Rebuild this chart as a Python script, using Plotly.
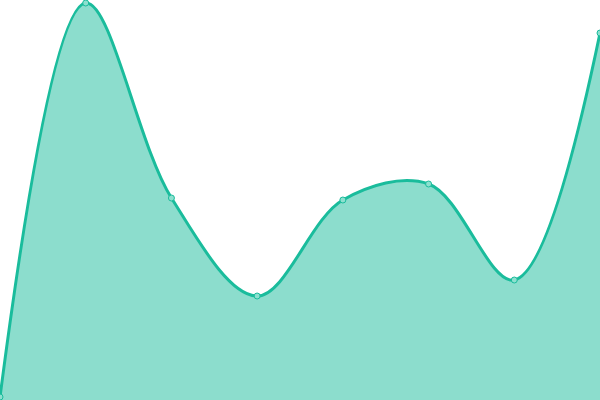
import plotly.graph_objects as go

# point positions along the x axis and their values
steps = [0, 1, 2, 3, 4, 5, 6, 7]
values = [3, 397, 202, 104, 200, 216, 120, 367]

line_color = "#1abc9c"

fig = go.Figure()
fig.add_trace(go.Scatter(
    x=steps, y=values,
    mode="lines+markers",
    line=dict(color=line_color, width=3, shape="spline", smoothing=1),
    marker=dict(size=6, color="#8de0cf", line=dict(color=line_color, width=1)),
    fill="tozeroy",
    fillcolor="rgba(26,188,156,0.5)",
    hoverinfo="skip",
    cliponaxis=False,
))

fig.update_xaxes(visible=False, range=[0, 7])
fig.update_yaxes(visible=False, range=[0, 400])
fig.update_layout(
    width=600, height=400,
    margin=dict(l=0, r=0, t=0, b=0),
    paper_bgcolor="white", plot_bgcolor="white",
    showlegend=False,
)

# drop the default body margin so the chart sits flush in the window
fig.write_html("out.html", config=dict(displayModeBar=False),
               post_script="document.body.style.margin='0';document.body.style.overflow='hidden';")
